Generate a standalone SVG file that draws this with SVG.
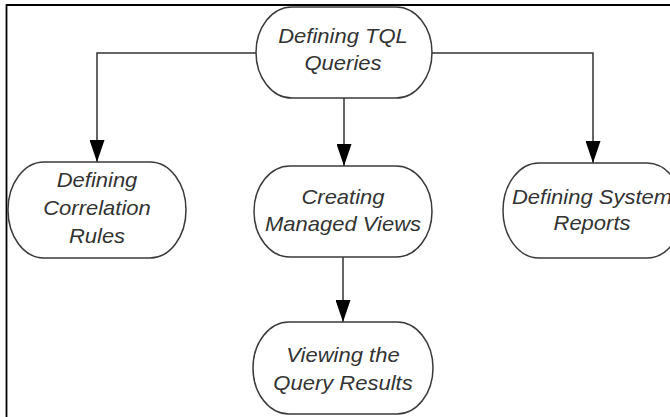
<svg xmlns="http://www.w3.org/2000/svg" width="670" height="417" viewBox="0 0 670 417">
<style>
.node{fill:#fff;stroke:#3a3a3a;stroke-width:1.5}
.lbl{font-family:"Liberation Sans",Arial,sans-serif;font-style:italic;font-size:20px;fill:#333;text-anchor:middle}
.conn{fill:none;stroke:#333;stroke-width:1.5}
.frame{fill:none;stroke:#000;stroke-width:1.8}
</style>
<defs>
<marker id="arr" viewBox="0 0 22 15" refX="22" refY="7.5" markerWidth="22" markerHeight="15" orient="auto" markerUnits="userSpaceOnUse">
<path d="M0,0 L22,7.5 L0,15 z" fill="#000"/>
</marker>
</defs>
<rect width="670" height="417" fill="#fff"/>
<path class="frame" d="M6.5,417 V5 H670"/>
<g id="connectors">
<path class="conn" d="M256,53 H97 V162" marker-end="url(#arr)"/>
<path class="conn" d="M432,53 H593 V163" marker-end="url(#arr)"/>
<path class="conn" d="M344,98 V166" marker-end="url(#arr)"/>
<path class="conn" d="M343,257 V322" marker-end="url(#arr)"/>
</g>
<g id="n-tql">
<rect class="node" x="256" y="7" width="176" height="91" rx="36" ry="45.5"/>
<g transform="translate(343,0) scale(1.1,1)"><text class="lbl" x="0" y="43">Defining TQL</text><text class="lbl" x="0" y="70.5">Queries</text></g>
</g>
<g id="n-corr">
<rect class="node" x="8" y="162" width="178" height="96" rx="36" ry="48"/>
<g transform="translate(97,0) scale(1.1,1)"><text class="lbl" x="0" y="187.5">Defining</text><text class="lbl" x="0" y="215.5">Correlation</text><text class="lbl" x="0" y="243">Rules</text></g>
</g>
<g id="n-views">
<rect class="node" x="254" y="166" width="178" height="91" rx="36" ry="45.5"/>
<g transform="translate(343,0) scale(1.1,1)"><text class="lbl" x="0" y="204">Creating</text><text class="lbl" x="0" y="231.5">Managed Views</text></g>
</g>
<g id="n-reports">
<rect class="node" x="503" y="163" width="180" height="95" rx="36" ry="47.5"/>
<g transform="translate(592,0) scale(1.1,1)"><text class="lbl" x="0" y="204">Defining System</text><text class="lbl" x="0" y="230.5">Reports</text></g>
</g>
<g id="n-results">
<rect class="node" x="253" y="322" width="180" height="92" rx="36" ry="46"/>
<g transform="translate(343,0) scale(1.1,1)"><text class="lbl" x="0" y="362.5">Viewing the</text><text class="lbl" x="0" y="390">Query Results</text></g>
</g>
</svg>
